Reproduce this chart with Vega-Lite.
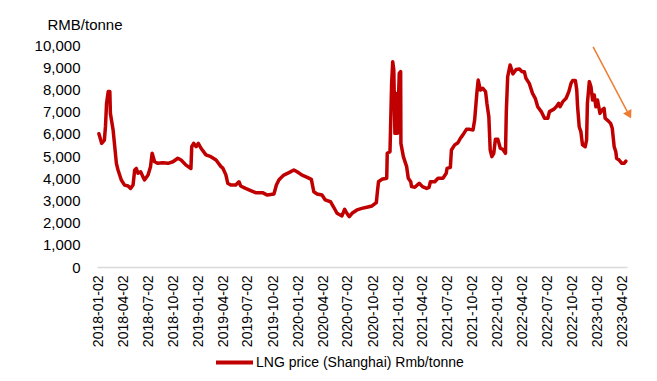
{
  "$schema": "https://vega.github.io/schema/vega-lite/v6.json",
  "autosize": {"type": "none"},
  "width": 530,
  "height": 222,
  "padding": {"left": 97, "top": 45, "right": 30, "bottom": 114},
  "background": "white",
  "config": {
    "view": {"stroke": null},
    "font": "Liberation Sans"
  },
  "datasets": {
    "lng": [
      {"date": "2018-01-02", "price": 6000}, {"date": "2018-01-12", "price": 5570}, {"date": "2018-01-22", "price": 5720},
      {"date": "2018-01-26", "price": 6320}, {"date": "2018-01-30", "price": 7370}, {"date": "2018-02-05", "price": 7900},
      {"date": "2018-02-11", "price": 7900}, {"date": "2018-02-13", "price": 6920}, {"date": "2018-02-23", "price": 6170},
      {"date": "2018-03-01", "price": 5420}, {"date": "2018-03-07", "price": 4670}, {"date": "2018-03-13", "price": 4370},
      {"date": "2018-03-25", "price": 3920}, {"date": "2018-04-06", "price": 3690}, {"date": "2018-04-19", "price": 3650},
      {"date": "2018-04-28", "price": 3540}, {"date": "2018-05-07", "price": 3690}, {"date": "2018-05-13", "price": 4370},
      {"date": "2018-05-19", "price": 4440}, {"date": "2018-05-25", "price": 4220}, {"date": "2018-06-04", "price": 4290},
      {"date": "2018-06-12", "price": 4070}, {"date": "2018-06-18", "price": 3920}, {"date": "2018-07-01", "price": 4140},
      {"date": "2018-07-10", "price": 4520}, {"date": "2018-07-16", "price": 5120}, {"date": "2018-07-25", "price": 4740},
      {"date": "2018-08-06", "price": 4670}, {"date": "2018-08-24", "price": 4700}, {"date": "2018-09-12", "price": 4670},
      {"date": "2018-09-30", "price": 4740}, {"date": "2018-10-18", "price": 4900}, {"date": "2018-10-30", "price": 4820},
      {"date": "2018-11-17", "price": 4590}, {"date": "2018-12-05", "price": 4440}, {"date": "2018-12-08", "price": 5420},
      {"date": "2018-12-15", "price": 5570}, {"date": "2018-12-24", "price": 5420}, {"date": "2019-01-01", "price": 5570},
      {"date": "2019-01-11", "price": 5350}, {"date": "2019-01-29", "price": 5050}, {"date": "2019-02-16", "price": 4970},
      {"date": "2019-03-07", "price": 4820}, {"date": "2019-03-25", "price": 4520}, {"date": "2019-04-01", "price": 4450},
      {"date": "2019-04-12", "price": 4150}, {"date": "2019-04-19", "price": 3770}, {"date": "2019-04-30", "price": 3690},
      {"date": "2019-05-18", "price": 3690}, {"date": "2019-05-30", "price": 3840}, {"date": "2019-06-05", "price": 3650},
      {"date": "2019-06-23", "price": 3540}, {"date": "2019-07-12", "price": 3440}, {"date": "2019-07-30", "price": 3350},
      {"date": "2019-08-24", "price": 3350}, {"date": "2019-09-11", "price": 3240}, {"date": "2019-10-05", "price": 3290},
      {"date": "2019-10-14", "price": 3690}, {"date": "2019-10-23", "price": 3920}, {"date": "2019-10-29", "price": 4000},
      {"date": "2019-11-10", "price": 4140}, {"date": "2019-11-29", "price": 4250}, {"date": "2019-12-17", "price": 4370},
      {"date": "2019-12-29", "price": 4290}, {"date": "2020-01-16", "price": 4140}, {"date": "2020-02-04", "price": 4040},
      {"date": "2020-02-19", "price": 3950}, {"date": "2020-02-28", "price": 3390}, {"date": "2020-03-11", "price": 3290},
      {"date": "2020-03-29", "price": 3240}, {"date": "2020-04-10", "price": 3020}, {"date": "2020-04-29", "price": 2940},
      {"date": "2020-05-11", "price": 2690}, {"date": "2020-05-23", "price": 2420}, {"date": "2020-06-10", "price": 2300},
      {"date": "2020-06-20", "price": 2600}, {"date": "2020-06-28", "price": 2420}, {"date": "2020-07-07", "price": 2270},
      {"date": "2020-07-17", "price": 2420}, {"date": "2020-08-04", "price": 2570}, {"date": "2020-08-22", "price": 2640},
      {"date": "2020-09-09", "price": 2690}, {"date": "2020-09-28", "price": 2750}, {"date": "2020-10-14", "price": 2900},
      {"date": "2020-10-18", "price": 3400}, {"date": "2020-10-22", "price": 3840}, {"date": "2020-11-03", "price": 3950},
      {"date": "2020-11-21", "price": 4000}, {"date": "2020-11-23", "price": 5120}, {"date": "2020-12-03", "price": 5190},
      {"date": "2020-12-09", "price": 8270}, {"date": "2020-12-13", "price": 9250}, {"date": "2020-12-17", "price": 8870},
      {"date": "2020-12-21", "price": 6020}, {"date": "2020-12-25", "price": 7820}, {"date": "2020-12-30", "price": 6020},
      {"date": "2021-01-06", "price": 8720}, {"date": "2021-01-11", "price": 8800}, {"date": "2021-01-12", "price": 5570},
      {"date": "2021-01-21", "price": 4970}, {"date": "2021-02-02", "price": 4520}, {"date": "2021-02-08", "price": 4000},
      {"date": "2021-02-17", "price": 3840}, {"date": "2021-02-20", "price": 3620}, {"date": "2021-03-04", "price": 3590},
      {"date": "2021-03-20", "price": 3770}, {"date": "2021-04-01", "price": 3620}, {"date": "2021-04-16", "price": 3540},
      {"date": "2021-04-25", "price": 3590}, {"date": "2021-04-30", "price": 3840}, {"date": "2021-05-16", "price": 3840},
      {"date": "2021-05-28", "price": 4000}, {"date": "2021-06-15", "price": 4000}, {"date": "2021-06-27", "price": 4220},
      {"date": "2021-06-30", "price": 4440}, {"date": "2021-07-12", "price": 4490}, {"date": "2021-07-16", "price": 5270},
      {"date": "2021-07-28", "price": 5500}, {"date": "2021-08-09", "price": 5600}, {"date": "2021-08-18", "price": 5800},
      {"date": "2021-08-27", "price": 5950}, {"date": "2021-09-09", "price": 6200}, {"date": "2021-09-21", "price": 6200},
      {"date": "2021-10-03", "price": 6170}, {"date": "2021-10-09", "price": 6620}, {"date": "2021-10-17", "price": 7820},
      {"date": "2021-10-22", "price": 8420}, {"date": "2021-10-30", "price": 7970}, {"date": "2021-11-08", "price": 8050},
      {"date": "2021-11-18", "price": 7900}, {"date": "2021-11-23", "price": 7370}, {"date": "2021-11-30", "price": 6770},
      {"date": "2021-12-05", "price": 5270}, {"date": "2021-12-11", "price": 4970}, {"date": "2021-12-18", "price": 5120},
      {"date": "2021-12-24", "price": 5750}, {"date": "2022-01-02", "price": 5750}, {"date": "2022-01-11", "price": 5350},
      {"date": "2022-01-20", "price": 5300}, {"date": "2022-01-30", "price": 5120}, {"date": "2022-02-02", "price": 7000},
      {"date": "2022-02-07", "price": 8570}, {"date": "2022-02-16", "price": 9100}, {"date": "2022-02-26", "price": 8700},
      {"date": "2022-03-10", "price": 8900}, {"date": "2022-03-22", "price": 8920}, {"date": "2022-04-01", "price": 8800},
      {"date": "2022-04-09", "price": 8800}, {"date": "2022-04-15", "price": 8500}, {"date": "2022-04-27", "price": 8270},
      {"date": "2022-05-09", "price": 7820}, {"date": "2022-05-19", "price": 7600}, {"date": "2022-05-28", "price": 7220},
      {"date": "2022-06-10", "price": 7000}, {"date": "2022-06-22", "price": 6700}, {"date": "2022-07-04", "price": 6700},
      {"date": "2022-07-10", "price": 7000}, {"date": "2022-07-25", "price": 7100}, {"date": "2022-08-04", "price": 7220},
      {"date": "2022-08-13", "price": 7370}, {"date": "2022-08-18", "price": 7220}, {"date": "2022-08-28", "price": 7450},
      {"date": "2022-09-09", "price": 7600}, {"date": "2022-09-19", "price": 7900}, {"date": "2022-09-27", "price": 8270},
      {"date": "2022-10-03", "price": 8400}, {"date": "2022-10-13", "price": 8400}, {"date": "2022-10-18", "price": 7970},
      {"date": "2022-10-21", "price": 7220}, {"date": "2022-10-27", "price": 6320}, {"date": "2022-11-02", "price": 6100},
      {"date": "2022-11-08", "price": 5500}, {"date": "2022-11-18", "price": 5420}, {"date": "2022-11-23", "price": 5720},
      {"date": "2022-11-26", "price": 7370}, {"date": "2022-12-03", "price": 8350}, {"date": "2022-12-09", "price": 8120},
      {"date": "2022-12-15", "price": 7520}, {"date": "2022-12-21", "price": 7750}, {"date": "2022-12-27", "price": 7220},
      {"date": "2023-01-02", "price": 7520}, {"date": "2023-01-11", "price": 6920}, {"date": "2023-01-18", "price": 7070},
      {"date": "2023-01-26", "price": 7150}, {"date": "2023-01-30", "price": 6700}, {"date": "2023-02-07", "price": 6620},
      {"date": "2023-02-19", "price": 6470}, {"date": "2023-02-25", "price": 6250}, {"date": "2023-03-04", "price": 5420},
      {"date": "2023-03-10", "price": 5190}, {"date": "2023-03-13", "price": 4900}, {"date": "2023-03-22", "price": 4820},
      {"date": "2023-04-01", "price": 4670}, {"date": "2023-04-10", "price": 4670}, {"date": "2023-04-16", "price": 4770}
    ],
    "trend": [
      {"date": "2022-12-17", "price": 9920, "date2": "2023-04-21", "price2": 7000}
    ],
    "head": [
      {"date": "2023-04-28", "price": 6850}
    ]
  },
  "encoding": {
    "x": {
      "field": "date",
      "type": "temporal",
      "scale": {
        "type": "utc",
        "domain": [
          {"year": 2017, "month": 12, "date": 26, "utc": true},
          {"year": 2023, "month": 4, "date": 20, "utc": true}
        ]
      },
      "axis": {
        "title": null,
        "grid": false,
        "ticks": false,
        "tickSize": 0,
        "domainColor": "#d9d9d9",
        "domainWidth": 1.5,
        "format": "%Y-%m-%d",
        "labelAngle": -90,
        "labelAlign": "right",
        "labelBaseline": "middle",
        "labelPadding": 8,
        "labelFontSize": 14,
        "labelColor": "#000000",
        "labelOverlap": false,
        "labelFlush": false,
        "values": [
          {"year": 2018, "month": 1, "date": 2, "utc": true},
          {"year": 2018, "month": 4, "date": 2, "utc": true},
          {"year": 2018, "month": 7, "date": 2, "utc": true},
          {"year": 2018, "month": 10, "date": 2, "utc": true},
          {"year": 2019, "month": 1, "date": 2, "utc": true},
          {"year": 2019, "month": 4, "date": 2, "utc": true},
          {"year": 2019, "month": 7, "date": 2, "utc": true},
          {"year": 2019, "month": 10, "date": 2, "utc": true},
          {"year": 2020, "month": 1, "date": 2, "utc": true},
          {"year": 2020, "month": 4, "date": 2, "utc": true},
          {"year": 2020, "month": 7, "date": 2, "utc": true},
          {"year": 2020, "month": 10, "date": 2, "utc": true},
          {"year": 2021, "month": 1, "date": 2, "utc": true},
          {"year": 2021, "month": 4, "date": 2, "utc": true},
          {"year": 2021, "month": 7, "date": 2, "utc": true},
          {"year": 2021, "month": 10, "date": 2, "utc": true},
          {"year": 2022, "month": 1, "date": 2, "utc": true},
          {"year": 2022, "month": 4, "date": 2, "utc": true},
          {"year": 2022, "month": 7, "date": 2, "utc": true},
          {"year": 2022, "month": 10, "date": 2, "utc": true},
          {"year": 2023, "month": 1, "date": 2, "utc": true},
          {"year": 2023, "month": 4, "date": 2, "utc": true}
        ]
      }
    },
    "y": {
      "field": "price",
      "type": "quantitative",
      "scale": {"domain": [0, 10000], "nice": false, "zero": true},
      "axis": {
        "title": "RMB/tonne",
        "titleAngle": 0,
        "titleAlign": "left",
        "titleBaseline": "middle",
        "titleX": -50,
        "titleY": -21,
        "titleFontSize": 15,
        "titleFontWeight": "normal",
        "titleColor": "#000000",
        "grid": false,
        "domain": false,
        "ticks": false,
        "tickSize": 0,
        "labelPadding": 17,
        "labelFontSize": 15,
        "labelColor": "#000000",
        "format": ",.0f",
        "values": [0, 1000, 2000, 3000, 4000, 5000, 6000, 7000, 8000, 9000, 10000]
      }
    }
  },
  "layer": [
    {
      "data": {"name": "lng"},
      "transform": [{"calculate": "'LNG price (Shanghai) Rmb/tonne'", "as": "series"}],
      "mark": {"type": "line", "strokeWidth": 3.5, "strokeJoin": "round", "strokeCap": "round"},
      "encoding": {
        "color": {
          "field": "series",
          "type": "nominal",
          "scale": {"range": ["#C00000"]},
          "legend": {
            "title": null,
            "orient": "none",
            "legendX": 117,
            "legendY": 297,
            "padding": 0,
            "symbolType": "stroke",
            "symbolSize": 1369,
            "symbolStrokeWidth": 4,
            "labelFontSize": 14,
            "labelColor": "#000000",
            "labelOffset": 1,
            "labelLimit": 400
          }
        }
      }
    },
    {
      "data": {"name": "trend"},
      "mark": {"type": "rule", "color": "#ED7D31", "strokeWidth": 1.5},
      "encoding": {
        "x2": {"field": "date2"},
        "y2": {"field": "price2"}
      }
    },
    {
      "data": {"name": "head"},
      "mark": {"type": "point", "shape": "triangle-down", "filled": true, "color": "#ED7D31", "opacity": 1, "size": 90, "angle": 332},
      "encoding": {}
    }
  ]
}
